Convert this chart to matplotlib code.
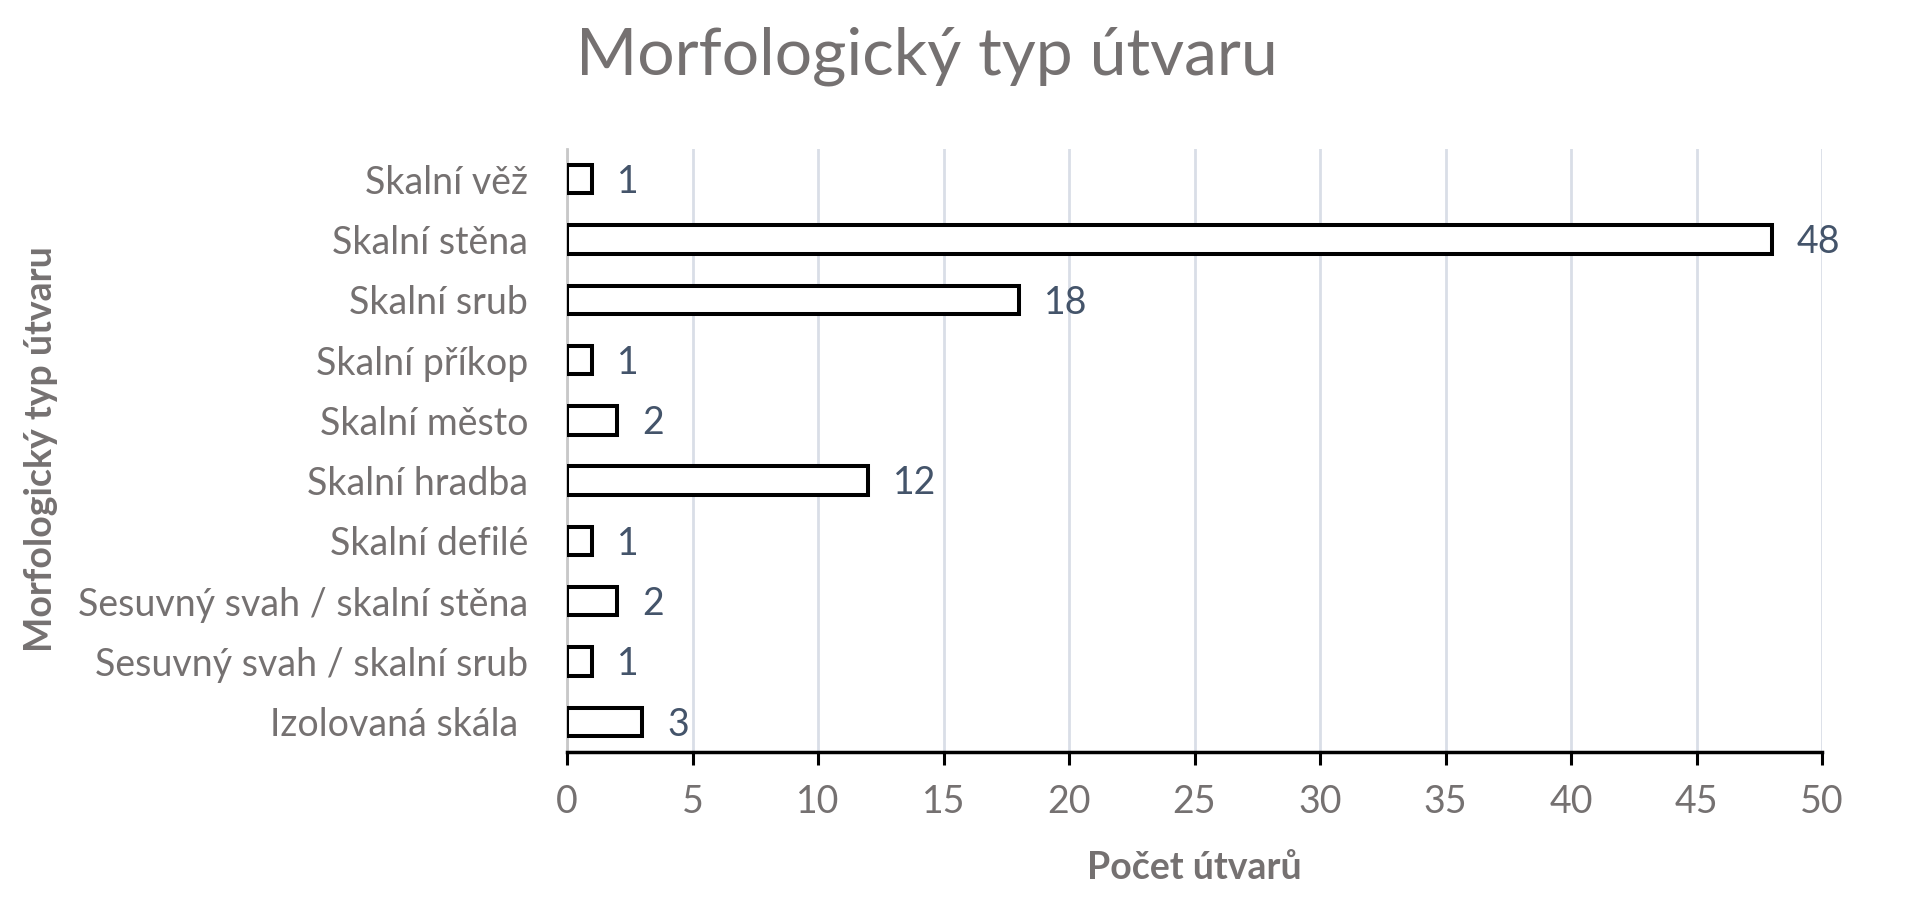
import numpy as np
import matplotlib.pyplot as plt

plt.rcParams['font.family'] = ['Lato', 'DejaVu Sans']

categories = ['Skalní věž', 'Skalní stěna', 'Skalní srub', 'Skalní příkop',
              'Skalní město', 'Skalní hradba', 'Skalní defilé',
              'Sesuvný svah / skalní stěna', 'Sesuvný svah / skalní srub',
              'Izolovaná skála ']
counts = [1, 48, 18, 1, 2, 12, 1, 2, 1, 3]
xticks = [0, 5, 10, 15, 20, 25, 30, 35, 40, 45, 50]

gray = '#757171'
label_blue = '#44546a'

fig = plt.figure(figsize=(19.2, 9.09), dpi=100)
ax = fig.add_axes([567 / 1920, 1 - 752 / 909, (1822 - 567) / 1920, (752 - 149) / 909])

y = np.arange(len(categories))
bars = ax.barh(y, counts, height=0.47, color='white', edgecolor='black',
               linewidth=2.9, zorder=3)
for b, v in zip(bars, counts):
    ax.annotate(str(v), (b.get_width(), b.get_y() + b.get_height() / 2),
                xytext=(18, -2), textcoords='offset points', va='center',
                ha='left', fontsize=27, color=label_blue)

ax.set_ylim(len(categories) - 0.5, -0.5)
ax.set_xlim(0, 50)
ax.set_xticks(xticks)
ax.set_yticks(y)
ax.set_yticklabels(categories)
ax.tick_params(axis='y', length=0, pad=28, labelsize=27, labelcolor=gray)
ax.tick_params(axis='x', length=9, width=2.2, pad=14, labelsize=27,
               labelcolor=gray, color='black')
ax.xaxis.grid(True, color='#d9dee7', linewidth=2, zorder=0)
ax.set_axisbelow(True)
for s in ['top', 'right']:
    ax.spines[s].set_visible(False)
ax.spines['left'].set_color('#c8c8c8')
ax.spines['left'].set_linewidth(2)
ax.spines['bottom'].set_color('black')
ax.spines['bottom'].set_linewidth(2.5)

fig.text((567 + 1822) / 2 / 1920, 1 - 879 / 909, 'Počet útvarů', ha='center',
         va='baseline', fontsize=27, fontweight='bold', color=gray)
fig.text(41 / 1920, 1 - 449 / 909, 'Morfologický typ útvaru', rotation=90,
         ha='center', va='center', fontsize=27, fontweight='bold', color=gray)
fig.text(927 / 1920, 1 - 74 / 909, 'Morfologický typ útvaru', ha='center',
         va='baseline', fontsize=47.5, color=gray)

fig.savefig('out.png', dpi=100)
